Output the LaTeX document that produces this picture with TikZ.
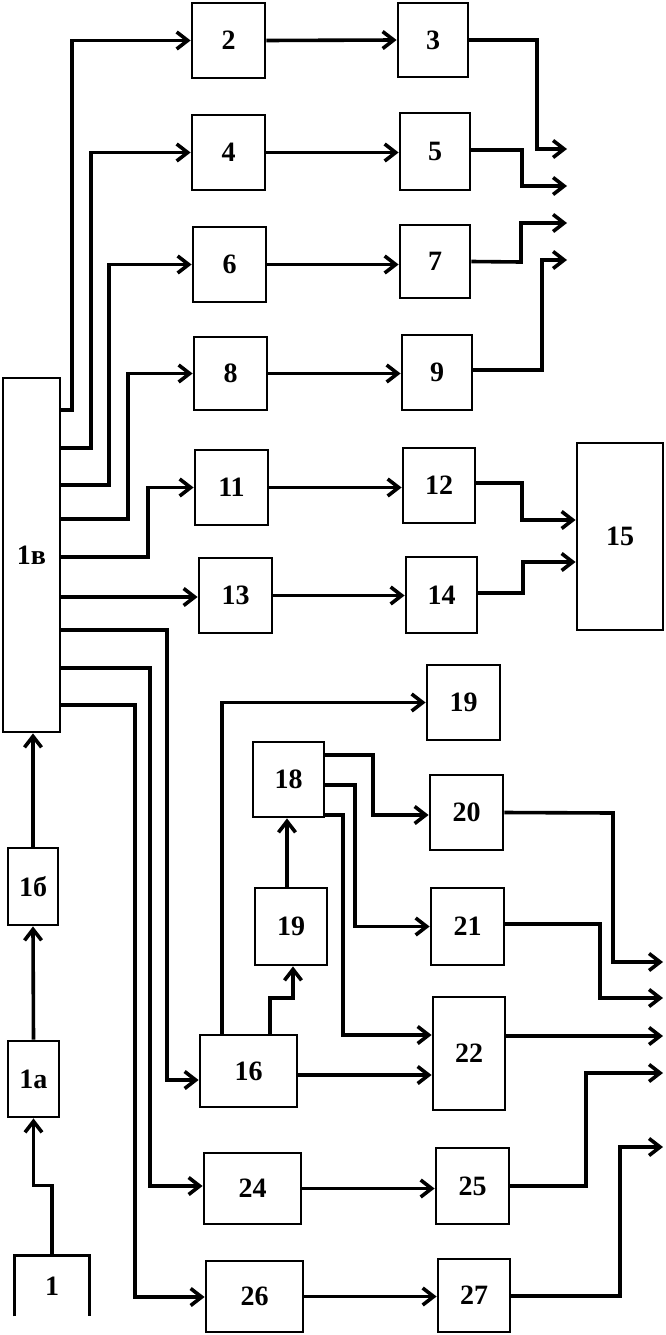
\documentclass[tikz,border=0pt]{standalone}
\usepackage{fontspec}
\setmainfont{Liberation Serif}
\usetikzlibrary{arrows.meta}
\begin{document}
\begin{tikzpicture}[x=1pt,y=-1pt,
  box/.style={draw, line width=2.8pt, inner sep=0pt, font=\bfseries\fontsize{28}{30}\selectfont},
  arr/.style={line width=3.6pt, -{Straight Barb[length=11pt,width=17pt]}}]
\useasboundingbox (0,0) rectangle (665,1335);
% boxes
\node[box, minimum width=73pt, minimum height=75pt] (n2) at (228.5,40.5) {2};
\node[box, minimum width=73pt, minimum height=75pt] (n4) at (228.5,152.5) {4};
\node[box, minimum width=73pt, minimum height=75pt] (n6) at (229.5,264.5) {6};
\node[box, minimum width=73pt, minimum height=73pt] (n8) at (230.5,373.5) {8};
\node[box, minimum width=70pt, minimum height=74pt] (n3) at (433,40) {3};
\node[box, minimum width=70pt, minimum height=77pt] (n5) at (435,151.5) {5};
\node[box, minimum width=70pt, minimum height=73pt] (n7) at (435,261.5) {7};
\node[box, minimum width=70pt, minimum height=75pt] (n9) at (437,372.5) {9};
\node[box, minimum width=73pt, minimum height=75pt] (n11) at (231.5,487.5) {11};
\node[box, minimum width=72pt, minimum height=75pt] (n12) at (439,485.5) {12};
\node[box, minimum width=73pt, minimum height=75pt] (n13) at (235.5,595.5) {13};
\node[box, minimum width=71pt, minimum height=76pt] (n14) at (441.5,595) {14};
\node[box, minimum width=86pt, minimum height=187pt] (n15) at (620,536.5) {15};
\node[box, minimum width=57pt, minimum height=354pt, text depth=-30pt] (n1v) at (31.5,555) {1в};
\node[box, minimum width=50pt, minimum height=77pt] (n1b) at (33,886.5) {1б};
\node[box, minimum width=51pt, minimum height=76pt] (n1a) at (33.5,1079) {1а};
\node[box, draw=none, minimum width=72pt, minimum height=58pt] (n1) at (52,1286) {1};
\draw[line width=2.8pt] (n1.south west) -- (n1.north west) -- (n1.north east) -- (n1.south east);
\node[box, minimum width=97pt, minimum height=72pt] (n16) at (248.5,1071) {16};
\node[box, minimum width=97pt, minimum height=71pt] (n24) at (252.5,1188.5) {24};
\node[box, minimum width=97pt, minimum height=71pt] (n26) at (254.5,1296.5) {26};
\node[box, minimum width=73pt, minimum height=76pt] (n25) at (472.5,1186) {25};
\node[box, minimum width=72pt, minimum height=73pt] (n27) at (474,1295.5) {27};
\node[box, minimum width=73pt, minimum height=75pt] (n19a) at (463.5,702.5) {19};
\node[box, minimum width=71pt, minimum height=75pt] (n18) at (288.5,779.5) {18};
\node[box, minimum width=72pt, minimum height=77pt] (n19b) at (291,926.5) {19};
\node[box, minimum width=73pt, minimum height=75pt] (n20) at (466.5,812.5) {20};
\node[box, minimum width=73pt, minimum height=77pt] (n21) at (467.5,926.5) {21};
\node[box, minimum width=72pt, minimum height=113pt] (n22) at (469,1053.5) {22};
% free output ends
\coordinate (o3) at (567,149);
\coordinate (o5) at (567,186);
\coordinate (o7) at (567,223);
\coordinate (o9) at (567,260);
\coordinate (o20) at (663,962);
\coordinate (o21) at (663,998);
\coordinate (o22) at (663,1036);
\coordinate (o25) at (663,1073);
\coordinate (o27) at (663,1147);
% input chain
\draw[arr] (n1.north) -- ++(0,-70) -| (n1a.south);
\draw[arr] (n1a.north) -- (n1b.south);
\draw[arr] (n1b.north) -- (n1v.south -| n1b.north);
% from 1v
\draw[arr] (n1v.east |- 0,410) -- (72,410) |- (n2.west);
\draw[arr] (n1v.east |- 0,448) -- (91,448) |- (n4.west);
\draw[arr] (n1v.east |- 0,485) -- (109,485) |- (n6.west);
\draw[arr] (n1v.east |- 0,519) -- (128,519) |- (n8.west);
\draw[arr] (n1v.east |- 0,557) -- (148,557) |- (n11.west);
\draw[arr] (n1v.east |- 0,597) -- (n13.west |- 0,597);
\draw[arr] (n1v.east |- 0,630) -- (167,630) |- (n16.west |- 0,1080);
\draw[arr] (n1v.east |- 0,668) -- (150,668) |- (n24.west |- 0,1186);
\draw[arr] (n1v.east |- 0,705) -- (135,705) |- (n26.west |- 0,1297);
% rows
\draw[arr] (n2.east) -- (n3.west);
\draw[arr] (n4.east) -- (n5.west |- n4.east);
\draw[arr] (n6.east) -- (n7.west |- n6.east);
\draw[arr] (n8.east) -- (n9.west |- n8.east);
\draw[arr] (n11.east) -- (n12.west |- n11.east);
\draw[arr] (n13.east) -- (n14.west |- n13.east);
\draw[arr] (n24.east) -- (n25.west |- n24.east);
\draw[arr] (n26.east) -- (n27.west |- n26.east);
% outputs top
\draw[arr] (n3.east) -- (537,40) |- (o3);
\draw[arr] (n5.east |- 0,150) -- (522,150) |- (o5);
\draw[arr] (n7.east) -- (521,262) |- (o7);
\draw[arr] (n9.east |- 0,370) -- (542,370) |- (o9);
\draw[arr] (n12.east |- 0,483) -- (522,483) |- (n15.west |- 0,520);
\draw[arr] (n14.east |- 0,593) -- (523,593) |- (n15.west |- 0,562);
% middle group
\draw[arr] (n16.north -| 222,0) |- (n19a.west);
\draw[arr] (n16.north -| 270,0) -- (270,998) -| (n19b.south -| 293,0);
\draw[arr] (n19b.north -| 287,0) -- (n18.south -| 287,0);
\draw[arr] (n18.east |- 0,755) -- (373,755) |- (n20.west |- 0,815);
\draw[arr] (n18.east |- 0,785) -- (355,785) |- (n21.west);
\draw[arr] (n18.east |- 0,815) -- (343,815) |- (n22.west |- 0,1035);
\draw[arr] (n16.east |- 0,1075) -- (n22.west |- 0,1075);
% outputs bottom
\draw[arr] (n20.east) -- (613,813) |- (o20);
\draw[arr] (n21.east |- 0,924) -- (600,924) |- (o21);
\draw[arr] (n22.east |- 0,1036) -- (o22);
\draw[arr] (n25.east) -- (586,1186) |- (o25);
\draw[arr] (n27.east |- 0,1296) -- (620,1296) |- (o27);
\end{tikzpicture}
\end{document}
